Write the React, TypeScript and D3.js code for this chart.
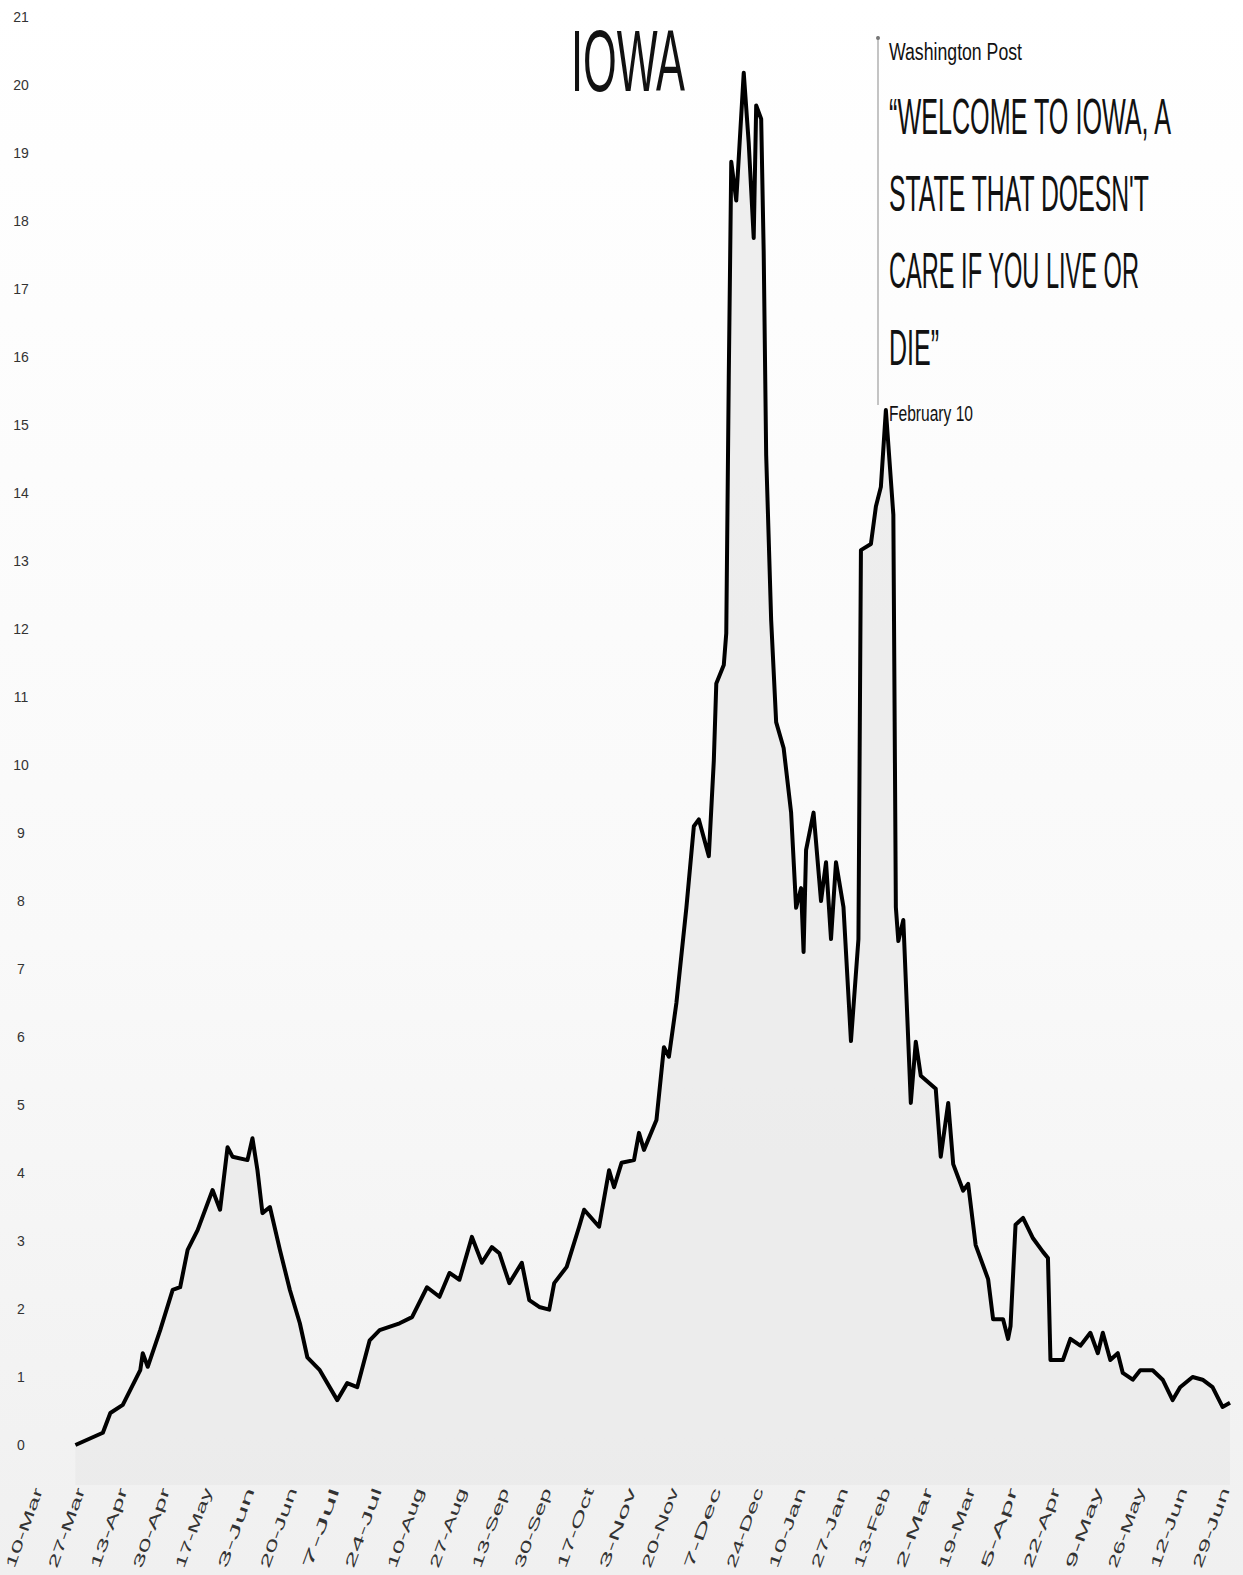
import * as d3 from "d3";

const dates = [
  "2020-03-23", "2020-04-03", "2020-04-06", "2020-04-11", "2020-04-18", "2020-04-19", "2020-04-21",
  "2020-04-26", "2020-05-01", "2020-05-04", "2020-05-07", "2020-05-11", "2020-05-17", "2020-05-20",
  "2020-05-23", "2020-05-25", "2020-05-31", "2020-06-02", "2020-06-04", "2020-06-06", "2020-06-09",
  "2020-06-13", "2020-06-17", "2020-06-21", "2020-06-24", "2020-06-29", "2020-07-06", "2020-07-10",
  "2020-07-14", "2020-07-19", "2020-07-23", "2020-07-31", "2020-08-05", "2020-08-11", "2020-08-16",
  "2020-08-20", "2020-08-24", "2020-08-29", "2020-09-02", "2020-09-06", "2020-09-09", "2020-09-13",
  "2020-09-18", "2020-09-21", "2020-09-25", "2020-09-29", "2020-10-01", "2020-10-06", "2020-10-11",
  "2020-10-13", "2020-10-19", "2020-10-23", "2020-10-25", "2020-10-28", "2020-11-02", "2020-11-04",
  "2020-11-06", "2020-11-11", "2020-11-14", "2020-11-16", "2020-11-19", "2020-11-23", "2020-11-26",
  "2020-11-28", "2020-12-02", "2020-12-04", "2020-12-05", "2020-12-08", "2020-12-09", "2020-12-10",
  "2020-12-11", "2020-12-13", "2020-12-16", "2020-12-18", "2020-12-20", "2020-12-21", "2020-12-23",
  "2020-12-24", "2020-12-25", "2020-12-27", "2020-12-29", "2021-01-01", "2021-01-04", "2021-01-06",
  "2021-01-08", "2021-01-09", "2021-01-10", "2021-01-13", "2021-01-16", "2021-01-18", "2021-01-20",
  "2021-01-22", "2021-01-25", "2021-01-28", "2021-01-31", "2021-02-01", "2021-02-05", "2021-02-07",
  "2021-02-09", "2021-02-11", "2021-02-14", "2021-02-15", "2021-02-16", "2021-02-18", "2021-02-21",
  "2021-02-23", "2021-02-25", "2021-03-03", "2021-03-05", "2021-03-08", "2021-03-10", "2021-03-14",
  "2021-03-16", "2021-03-19", "2021-03-24", "2021-03-26", "2021-03-30", "2021-04-01", "2021-04-02",
  "2021-04-04", "2021-04-07", "2021-04-11", "2021-04-15", "2021-04-17", "2021-04-18", "2021-04-23",
  "2021-04-26", "2021-04-30", "2021-05-04", "2021-05-07", "2021-05-09", "2021-05-12", "2021-05-15",
  "2021-05-17", "2021-05-21", "2021-05-24", "2021-05-29", "2021-06-02", "2021-06-06", "2021-06-09",
  "2021-06-14", "2021-06-18", "2021-06-22", "2021-06-26", "2021-06-29",
];

const values = [
  0.0, 0.18, 0.47, 0.59, 1.1, 1.35, 1.15,
  1.69, 2.28, 2.32, 2.87, 3.16, 3.75, 3.46,
  4.38, 4.24, 4.19, 4.51, 4.04, 3.41, 3.5,
  2.87, 2.28, 1.79, 1.29, 1.1, 0.66, 0.91,
  0.85, 1.54, 1.69, 1.79, 1.88, 2.32, 2.18,
  2.53, 2.43, 3.06, 2.68, 2.91, 2.82, 2.38,
  2.68, 2.13, 2.03, 1.99, 2.38, 2.62, 3.21,
  3.46, 3.21, 4.04, 3.79, 4.15, 4.19, 4.59,
  4.34, 4.78, 5.85, 5.71, 6.5, 7.9, 9.1,
  9.2, 8.66, 10.06, 11.2, 11.47, 11.94, 15.7,
  18.87, 18.3, 20.18, 19.15, 17.75, 19.7, 19.5,
  17.56, 14.56, 12.13, 10.63, 10.25, 9.3, 7.9,
  8.19, 7.25, 8.75, 9.3, 8.0, 8.57, 7.44,
  8.57, 7.91, 5.94, 7.44, 13.16, 13.25, 13.8,
  14.09, 15.22, 13.68, 7.91, 7.41, 7.72, 5.03,
  5.93, 5.43, 5.24, 4.24, 5.03, 4.13, 3.74,
  3.84, 2.94, 2.44, 1.85, 1.85, 1.56, 1.75,
  3.24, 3.34, 3.04, 2.84, 2.75, 1.25, 1.25,
  1.56, 1.46, 1.65, 1.35, 1.65, 1.25, 1.35,
  1.06, 0.96, 1.1, 1.1, 0.96, 0.66, 0.85,
  1.0, 0.96, 0.85, 0.56, 0.62,
];

const tickDates = [
  "2020-03-10", "2020-03-27", "2020-04-13", "2020-04-30", "2020-05-17", "2020-06-03", "2020-06-20",
  "2020-07-07", "2020-07-24", "2020-08-10", "2020-08-27", "2020-09-13", "2020-09-30", "2020-10-17",
  "2020-11-03", "2020-11-20", "2020-12-07", "2020-12-24", "2021-01-10", "2021-01-27", "2021-02-13",
  "2021-03-02", "2021-03-19", "2021-04-05", "2021-04-22", "2021-05-09", "2021-05-26", "2021-06-12",
  "2021-06-29",
];

const yTicks = d3.range(0, 22);

const title = "IOWA";
const source = "Washington Post";
const quoteLines = ["\u201CWELCOME TO IOWA, A", "STATE THAT DOESN'T", "CARE IF YOU LIVE OR", "DIE\u201D"];
const quoteDate = "February 10";

const W = 1243;
const H = 1575;
const narrow = "'Liberation Sans Narrow', 'Liberation Sans', Arial, sans-serif";

export default function App() {
  const parse = d3.timeParse("%Y-%m-%d");
  const fmt = d3.timeFormat("%-d-%b");
  const points = dates.map((d, i) => ({ date: parse(d)!, value: values[i] }));
  const ticks = tickDates.map((d) => parse(d)!);

  const x = d3
    .scaleTime()
    .domain([ticks[0], ticks[ticks.length - 1]])
    .range([43, 1230]);

  const y = d3.scaleLinear().domain([0, 21]).range([1445, 17]);

  const line = d3
    .line<typeof points[0]>()
    .x((d) => x(d.date))
    .y((d) => y(d.value));

  const area = d3
    .area<typeof points[0]>()
    .x((d) => x(d.date))
    .y0(y(0) + 40)
    .y1((d) => y(d.value));

  // widths the quote lines take up in the reference
  const quoteWidths = [282, 260, 250, 50];

  return (
    <div style={{ position: "absolute", left: 0, top: 0 }}>
      <svg width={W} height={H} viewBox={`0 0 ${W} ${H}`} style={{ display: "block", background: "#fff" }}>
        <defs>
          <linearGradient id="bg" x1="0" y1="0" x2="0" y2="1">
            <stop offset="0" stopColor="#ffffff" />
            <stop offset="0.6" stopColor="#f9f9f9" />
            <stop offset="1" stopColor="#f0f0f0" />
          </linearGradient>
        </defs>
        <rect x={0} y={0} width={W} height={H} fill="url(#bg)" />

        {/* light fill under the curve */}
        <path d={area(points) ?? ""} fill="#eaeaea" opacity={0.8} />

        {/* y axis labels */}
        {yTicks.map((t) => (
          <text
            key={t}
            x={21}
            y={y(t) + 5}
            textAnchor="middle"
            fontFamily={narrow}
            fontSize={14}
            fill="#333"
          >
            {t}
          </text>
        ))}

        {/* x axis labels */}
        {ticks.map((t, i) => (
          <text
            key={i}
            transform={`translate(${x(t)},${1490}) rotate(-70)`}
            textAnchor="end"
            fontFamily={narrow}
            fontSize={14}
            fill="#333"
            textLength={84}
            lengthAdjust="spacingAndGlyphs"
          >
            {fmt(t)}
          </text>
        ))}

        {/* title */}
        <text
          transform="translate(571,91) scale(1,1.45)"
          fontFamily={narrow}
          fontSize={60}
          fill="#111"
          textLength={114}
          lengthAdjust="spacingAndGlyphs"
        >
          {title}
        </text>

        {/* annotation */}
        <line x1={878} x2={878} y1={36} y2={405} stroke="#c4c4c4" strokeWidth={2} />
        <circle cx={878} cy={38} r={2} fill="#777" />
        <text
          transform="translate(889,60) scale(1,1.3)"
          fontFamily={narrow}
          fontSize={19}
          fill="#111"
          textLength={133}
          lengthAdjust="spacingAndGlyphs"
        >
          {source}
        </text>
        {quoteLines.map((l, i) => (
          <text
            key={i}
            transform={`translate(889,${134 + i * 77}) scale(1,2.1)`}
            fontFamily={narrow}
            fontSize={24}
            fill="#111"
            fontWeight={500}
            textLength={quoteWidths[i]}
            lengthAdjust="spacingAndGlyphs"
          >
            {l}
          </text>
        ))}
        <text
          transform="translate(889,421) scale(1,1.3)"
          fontFamily={narrow}
          fontSize={17}
          fill="#111"
          textLength={84}
          lengthAdjust="spacingAndGlyphs"
        >
          {quoteDate}
        </text>

        {/* the series */}
        <path
          d={line(points) ?? ""}
          fill="none"
          stroke="#000"
          strokeWidth={4}
          strokeLinejoin="round"
        />
      </svg>
    </div>
  );
}
